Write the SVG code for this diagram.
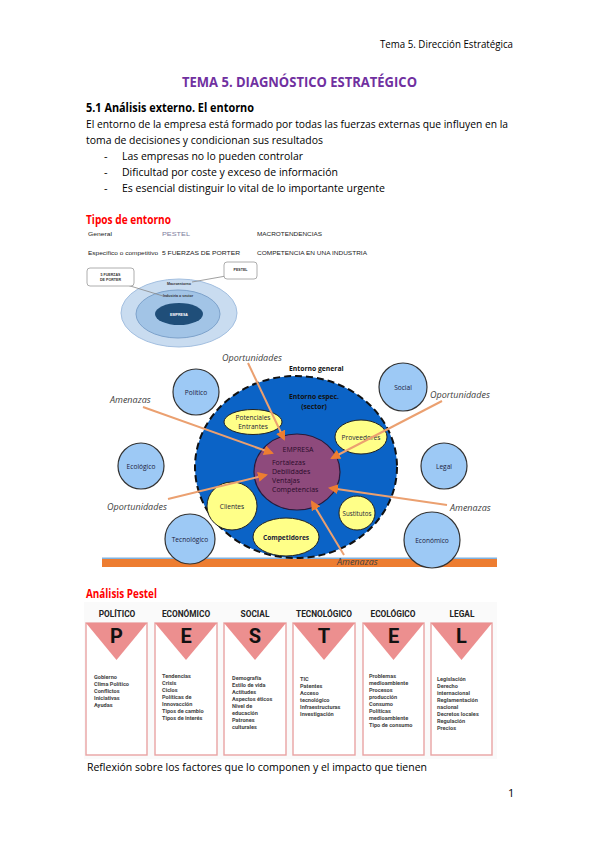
<svg xmlns="http://www.w3.org/2000/svg" width="599" height="848" viewBox="0 0 599 848">
<defs>
<style>
.b{font-family:"Open Sans","Liberation Sans",sans-serif;fill:#000}
.hd{font-size:10px}
.ti{font-size:13.5px;font-weight:bold;fill:#7030A0}
.h2{font-size:12px;font-weight:bold}
.p{font-size:11px}
.red{font-size:11.5px;font-weight:bold;fill:#FF0000}
.tiny{font-family:"Liberation Sans",sans-serif;font-size:5.8px;fill:#222}
.mini{font-family:"Liberation Sans",sans-serif;font-size:3.6px;fill:#333;font-weight:bold}
.lbl{font-family:"Open Sans","Liberation Sans",sans-serif;font-size:6.6px;fill:#1a1a3a;text-anchor:middle}
.it{font-family:"Open Sans","Liberation Sans",sans-serif;font-size:9px;font-style:italic;fill:#404040}
.emp{font-family:"Open Sans","Liberation Sans",sans-serif;font-size:7px;fill:#2a0a2a}
.lb{fill:#9DC9F5;stroke:#333;stroke-width:1.2}
.ye{fill:#FFFF88;stroke:#222;stroke-width:1}
.arr{stroke:#EBA070;stroke-width:2;fill:none;marker-end:url(#ah)}
.ph{font-family:"Roboto","Liberation Sans",sans-serif;font-size:8.3px;font-weight:bold;fill:#222;text-anchor:middle}
.pl{font-family:"Roboto","Liberation Sans",sans-serif;font-size:20px;font-weight:bold;fill:#111;text-anchor:middle}
.pi{font-family:"Roboto","Liberation Sans",sans-serif;font-size:5.6px;font-weight:bold;fill:#444}
.box{fill:#fff;stroke:#E8A3A3;stroke-width:1.4}
.tri{fill:#EC8F8F}
</style>
<marker id="ah" viewBox="0 0 10 10" refX="8" refY="5" markerWidth="10" markerHeight="10" markerUnits="userSpaceOnUse" orient="auto"><path d="M0,0 L10,5 L0,10 z" fill="#ED7D31"/></marker>
</defs>
<rect width="599" height="848" fill="#fff"/>

<!-- Header and text -->
<text class="b hd" x="513" y="48" text-anchor="end" textLength="133" lengthAdjust="spacingAndGlyphs">Tema 5. Dirección Estratégica</text>
<text class="b ti" x="182" y="87" textLength="235" lengthAdjust="spacingAndGlyphs">TEMA 5. DIAGNÓSTICO ESTRATÉGICO</text>
<text class="b h2" x="86" y="112" textLength="168" lengthAdjust="spacingAndGlyphs">5.1 Análisis externo. El entorno</text>
<text class="b p" x="86" y="128" textLength="422" lengthAdjust="spacingAndGlyphs">El entorno de la empresa está formado por todas las fuerzas externas que influyen en la</text>
<text class="b p" x="86" y="144" textLength="237" lengthAdjust="spacingAndGlyphs">toma de decisiones y condicionan sus resultados</text>
<text class="b p" x="104" y="160">-</text>
<text class="b p" x="122" y="160" textLength="181" lengthAdjust="spacingAndGlyphs">Las empresas no lo pueden controlar</text>
<text class="b p" x="104" y="176">-</text>
<text class="b p" x="122" y="176" textLength="216" lengthAdjust="spacingAndGlyphs">Dificultad por coste y exceso de información</text>
<text class="b p" x="104" y="192">-</text>
<text class="b p" x="122" y="192" textLength="263" lengthAdjust="spacingAndGlyphs">Es esencial distinguir lo vital de lo importante urgente</text>

<text class="b red" x="86" y="224" textLength="85" lengthAdjust="spacingAndGlyphs">Tipos de entorno</text>

<!-- Tipos de entorno table -->
<g id="tabla">
<text class="tiny" x="88" y="236" textLength="24" lengthAdjust="spacingAndGlyphs">General</text>
<text class="tiny" x="162" y="236" fill="#777" style="fill:#8080a0" textLength="28" lengthAdjust="spacingAndGlyphs">PESTEL</text>
<text class="tiny" x="257" y="236" textLength="65" lengthAdjust="spacingAndGlyphs">MACROTENDENCIAS</text>
<text class="tiny" x="88" y="255" textLength="70" lengthAdjust="spacingAndGlyphs">Específico o competitivo</text>
<text class="tiny" x="162" y="255" textLength="78" lengthAdjust="spacingAndGlyphs">5 FUERZAS DE PORTER</text>
<text class="tiny" x="257" y="255" textLength="110" lengthAdjust="spacingAndGlyphs">COMPETENCIA EN UNA INDUSTRIA</text>
</g>

<!-- Small concentric diagram -->
<g id="macroentorno">
<ellipse cx="179" cy="313" rx="58" ry="34" fill="#C9DCF0" stroke="#A3BFE0" stroke-width="1"/>
<text class="mini" x="179" y="285" text-anchor="middle">Macroentorno</text>
</g>
<g id="industria">
<ellipse cx="178" cy="314" rx="42" ry="24" fill="#A2C4E6" stroke="#7DA2CB" stroke-width="1"/>
<text class="mini" x="178" y="297" text-anchor="middle">Industria o sector</text>
</g>
<g id="empresa-small">
<ellipse cx="179" cy="314" rx="24" ry="11" fill="#1F4E79"/>
<text class="mini" x="179" y="315.5" text-anchor="middle" style="fill:#fff">EMPRESA</text>
</g>
<g id="callouts">
<path d="M127,285 L163,296" stroke="#888" stroke-width="0.8" fill="none"/>
<path d="M226,276 L192,282" stroke="#888" stroke-width="0.8" fill="none"/>
<g id="c-porter"><rect x="87" y="268" width="47" height="18" rx="3" fill="#fff" stroke="#999" stroke-width="0.8"/>
<text class="mini" x="110.5" y="276" text-anchor="middle">5 FUERZAS</text>
<text class="mini" x="110.5" y="281" text-anchor="middle">DE PORTER</text></g>
<g id="c-pestel"><rect x="224" y="262" width="33" height="17" rx="3" fill="#fff" stroke="#999" stroke-width="0.8"/>
<text class="mini" x="240.5" y="271" text-anchor="middle">PESTEL</text></g>
</g>

<!-- Big diagram -->
<rect x="102" y="557.5" width="395" height="1.5" fill="#7FB2E0"/>
<rect x="102" y="559" width="395" height="8" fill="#ED7D31"/>

<g id="entorno-general">
<ellipse cx="296" cy="467" rx="101" ry="91" fill="#0B63C6" stroke="#111" stroke-width="2" stroke-dasharray="7 4"/>
<text class="emp" x="289" y="371" style="font-weight:bold;font-size:6.8px;fill:#111">Entorno general</text>
<text class="emp" x="314" y="399" text-anchor="middle" style="font-weight:bold;font-size:6.8px;fill:#111">Entorno espec.</text>
<text class="emp" x="314" y="409" text-anchor="middle" style="font-weight:bold;font-size:6.8px;fill:#111">(sector)</text>
</g>

<g id="potenciales"><ellipse class="ye" cx="253" cy="422" rx="29" ry="12.5"/>
<text class="lbl" x="253" y="419.5">Potenciales</text><text class="lbl" x="253" y="428.5">Entrantes</text></g>
<g id="proveedores"><ellipse class="ye" cx="361" cy="437" rx="26" ry="17"/>
<text class="lbl" x="361" y="440">Proveedores</text></g>
<g id="clientes"><ellipse class="ye" cx="232" cy="506" rx="25" ry="24"/>
<text class="lbl" x="232" y="509">Clientes</text></g>
<g id="competidores"><ellipse class="ye" cx="286" cy="537" rx="33" ry="19"/>
<text class="lbl" x="286" y="540" style="font-weight:bold">Competidores</text></g>
<g id="sustitutos"><ellipse class="ye" cx="357" cy="513" rx="18" ry="17"/>
<text class="lbl" x="357" y="516" style="font-size:6.2px">Sustitutos</text></g>

<g id="empresa">
<ellipse cx="297" cy="472" rx="43" ry="38" fill="#8E4A7C" stroke="#2a1a3a" stroke-width="1.2"/>
<text class="emp" x="298" y="452" text-anchor="middle">EMPRESA</text>
<text class="emp" x="272" y="465">Fortalezas</text>
<text class="emp" x="272" y="474">Debilidades</text>
<text class="emp" x="272" y="483">Ventajas</text>
<text class="emp" x="272" y="492">Competencias</text>
</g>

<g id="politico"><circle class="lb" cx="196" cy="392" r="23"/><text class="lbl" x="196" y="394.5">Político</text></g>
<g id="social"><circle class="lb" cx="403" cy="387" r="24"/><text class="lbl" x="403" y="389.5">Social</text></g>
<g id="ecologico"><circle class="lb" cx="141" cy="466" r="23"/><text class="lbl" x="141" y="468.5">Ecológico</text></g>
<g id="legal"><circle class="lb" cx="444" cy="466" r="23"/><text class="lbl" x="444" y="468.5">Legal</text></g>
<g id="tecnologico"><circle class="lb" cx="190" cy="539" r="25"/><text class="lbl" x="190" y="541.5">Tecnológico</text></g>
<g id="economico"><circle class="lb" cx="432" cy="540" r="28"/><text class="lbl" x="432" y="542.5">Económico</text></g>

<g id="connectors">
<line class="arr" x1="248" y1="363" x2="284" y2="439"/>
<line class="arr" x1="143" y1="407" x2="272" y2="453"/>
<line class="arr" x1="442" y1="401" x2="332" y2="458"/>
<line class="arr" x1="168" y1="499" x2="266" y2="475"/>
<line class="arr" x1="447" y1="505" x2="330" y2="488"/>
<line class="arr" x1="344" y1="555" x2="312" y2="502"/>
</g>

<g id="labels">
<text class="it" x="222" y="361">Oportunidades</text>
<text class="it" x="110" y="403">Amenazas</text>
<text class="it" x="430" y="398">Oportunidades</text>
<text class="it" x="107" y="510">Oportunidades</text>
<text class="it" x="450" y="511">Amenazas</text>
<text class="it" x="337" y="565">Amenazas</text>
</g>

<!-- PESTEL -->
<text class="b red" x="86" y="598" textLength="71" lengthAdjust="spacingAndGlyphs">Análisis Pestel</text>
<rect x="84" y="602" width="413" height="157" fill="#FAFAFA"/>

<g id="p-politico">
<text class="ph" x="117" y="617">POLÍTICO</text>
<rect class="box" x="86" y="623" width="61" height="132"/>
<path class="tri" d="M86,623 H147 L116.5,660 Z"/>
<text class="pl" x="116.5" y="643">P</text>
<text class="pi" x="94" y="679">Gobierno</text>
<text class="pi" x="94" y="686">Clima Político</text>
<text class="pi" x="94" y="693">Conflictos</text>
<text class="pi" x="94" y="700">Iniciativas</text>
<text class="pi" x="94" y="707">Ayudas</text>
</g>
<g id="p-economico">
<text class="ph" x="186" y="617">ECONÓMICO</text>
<rect class="box" x="155" y="623" width="62" height="132"/>
<path class="tri" d="M155,623 H217 L186,660 Z"/>
<text class="pl" x="186" y="643">E</text>
<text class="pi" x="162" y="678">Tendencias</text>
<text class="pi" x="162" y="685">Crisis</text>
<text class="pi" x="162" y="692">Ciclos</text>
<text class="pi" x="162" y="699">Políticas de</text>
<text class="pi" x="162" y="706">Innovacción</text>
<text class="pi" x="162" y="713">Tipos de cambio</text>
<text class="pi" x="162" y="720">Tipos de interés</text>
</g>
<g id="p-social">
<text class="ph" x="255" y="617">SOCIAL</text>
<rect class="box" x="224" y="623" width="62" height="132"/>
<path class="tri" d="M224,623 H286 L255,660 Z"/>
<text class="pl" x="255" y="643">S</text>
<text class="pi" x="232" y="680">Demografía</text>
<text class="pi" x="232" y="687">Estilo de vida</text>
<text class="pi" x="232" y="694">Actitudes</text>
<text class="pi" x="232" y="701">Aspectos éticos</text>
<text class="pi" x="232" y="708">Nivel de</text>
<text class="pi" x="232" y="715">educación</text>
<text class="pi" x="232" y="722">Patrones</text>
<text class="pi" x="232" y="729">culturales</text>
</g>
<g id="p-tecnologico">
<text class="ph" x="324" y="617">TECNOLÓGICO</text>
<rect class="box" x="293" y="623" width="62" height="132"/>
<path class="tri" d="M293,623 H355 L324,660 Z"/>
<text class="pl" x="324" y="643">T</text>
<text class="pi" x="300" y="681">TIC</text>
<text class="pi" x="300" y="688">Patentes</text>
<text class="pi" x="300" y="695">Acceso</text>
<text class="pi" x="300" y="702">tecnológico</text>
<text class="pi" x="300" y="709">Infraestructuras</text>
<text class="pi" x="300" y="716">Investigación</text>
</g>
<g id="p-ecologico">
<text class="ph" x="393" y="617">ECOLÓGICO</text>
<rect class="box" x="363" y="623" width="61" height="132"/>
<path class="tri" d="M363,623 H424 L393.5,660 Z"/>
<text class="pl" x="393.5" y="643">E</text>
<text class="pi" x="369" y="678">Problemas</text>
<text class="pi" x="369" y="685">medioambiente</text>
<text class="pi" x="369" y="692">Procesos</text>
<text class="pi" x="369" y="699">producción</text>
<text class="pi" x="369" y="706">Consumo</text>
<text class="pi" x="369" y="713">Políticas</text>
<text class="pi" x="369" y="720">medioambiente</text>
<text class="pi" x="369" y="727">Tipo de consumo</text>
</g>
<g id="p-legal">
<text class="ph" x="462" y="617">LEGAL</text>
<rect class="box" x="431" y="623" width="61" height="132"/>
<path class="tri" d="M431,623 H492 L461.5,660 Z"/>
<text class="pl" x="461.5" y="643">L</text>
<text class="pi" x="437" y="681">Legislación</text>
<text class="pi" x="437" y="688">Derecho</text>
<text class="pi" x="437" y="695">internacional</text>
<text class="pi" x="437" y="702">Reglamentación</text>
<text class="pi" x="437" y="709">nacional</text>
<text class="pi" x="437" y="716">Decretos locales</text>
<text class="pi" x="437" y="723">Regulación</text>
<text class="pi" x="437" y="730">Precios</text>
</g>

<text class="b p" x="87" y="771" textLength="340" lengthAdjust="spacingAndGlyphs">Reflexión sobre los factores que lo componen y el impacto que tienen</text>
<text class="b p" x="508" y="797">1</text>
</svg>
